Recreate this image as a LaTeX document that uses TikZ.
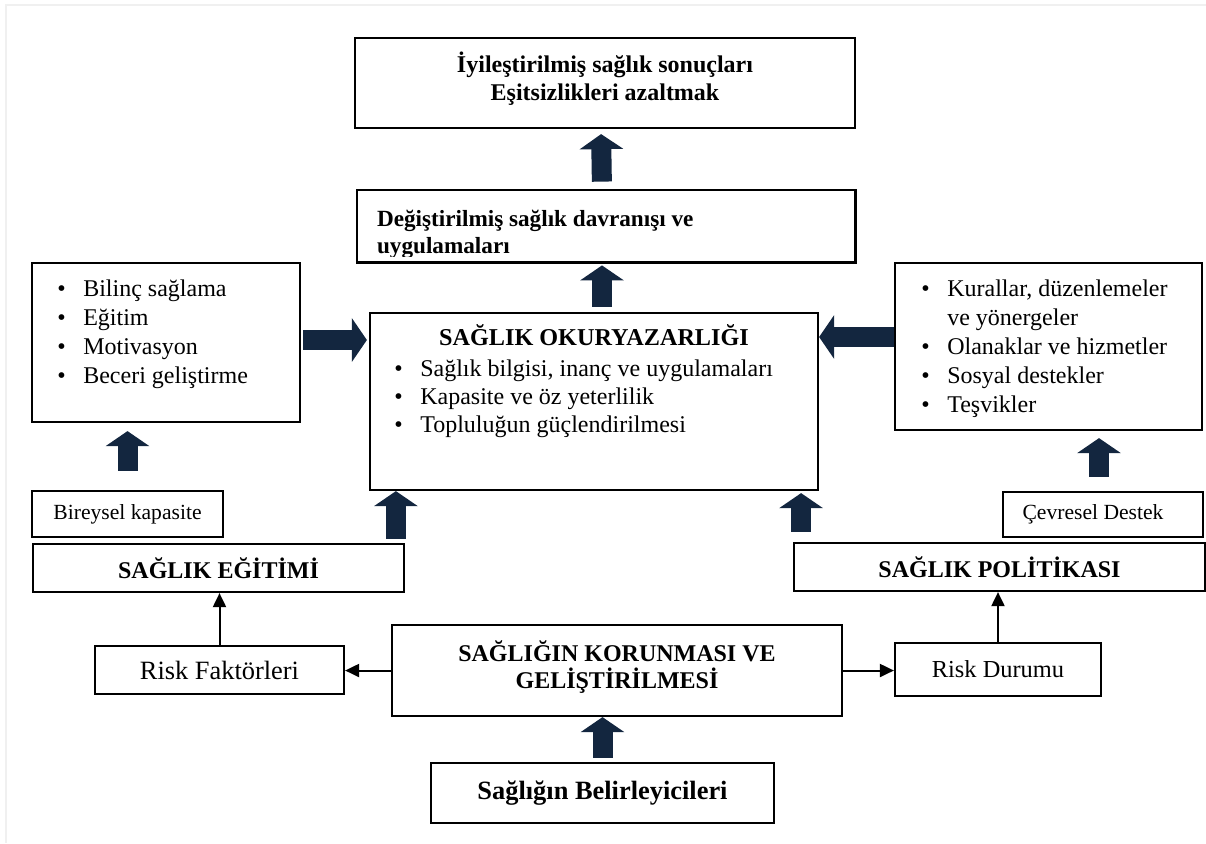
\documentclass[tikz,border=0pt]{standalone}
\usepackage{fontspec}
\setmainfont{Liberation Serif}
\usetikzlibrary{arrows.meta,positioning}
\definecolor{navyarr}{HTML}{13263F}
\newcommand{\itm}{\makebox[13pt][l]{\textbullet}}
\tikzset{
  box/.style={draw, line width=1.1pt, inner sep=0pt},
  fat/.style={navyarr, line width=10pt, -{Triangle[length=7.5pt,width=21.5pt]}},
  lnk/.style={line width=1pt, -{Triangle[length=7pt,width=6.5pt]}},
  hd/.style={font=\bfseries\fontsize{12}{13.5}\selectfont, align=center},
  lst/.style={anchor=base west, inner sep=0pt, font=\fontsize{12}{14.4}\selectfont}
}
\begin{document}
\begin{tikzpicture}[x=0.5pt,y=-0.5pt]
\useasboundingbox (0,0) rectangle (1206,843);
\draw[gray!12, line width=1pt] (6,843) -- (6,5) -- (1206,5);

% top
\node[box, minimum width=250pt, minimum height=45pt] (res) at (605,83) {};
\node[hd, font=\bfseries\fontsize{12}{14}\selectfont, inner sep=0pt] (restxt) at ([yshift=2pt]res.center) {İyileştirilmiş sağlık sonuçları\\Eşitsizlikleri azaltmak};
\node[inner sep=0pt, minimum width=249pt, minimum height=36pt] (beh) at (606,226) {};
\begin{scope}
  \clip ([yshift=3pt]beh.south west) rectangle (beh.north east);
  \node[lst, font=\bfseries\fontsize{11.6}{13.5}\selectfont] (behtxt) at ([xshift=10pt,yshift=-18.5pt]beh.north west) {\begin{tabular}[t]{@{}l@{}}Değiştirilmiş sağlık davranışı ve\\uygulamaları\end{tabular}};
\end{scope}
\draw[line width=1.1pt] (beh.south west) rectangle (beh.north east);

% middle
\node[box, minimum width=134pt, minimum height=79.5pt] (lft) at (166,342.5) {};
\node[lst] (lfttxt) at ([xshift=13pt,yshift=-17.5pt]lft.north west) {\begin{tabular}[t]{@{}l@{}}
\itm Bilinç sağlama\\ \itm Eğitim\\ \itm Motivasyon\\ \itm Beceri geliştirme\end{tabular}};

\node[box, minimum width=224pt, minimum height=88.5pt] (lit) at (594,401.5) {};
\node[anchor=base, inner sep=0pt, font=\bfseries\fontsize{12.1}{14}\selectfont] (littl) at ([yshift=-17pt]lit.north) {SAĞLIK OKURYAZARLIĞI};
\node[lst, font=\fontsize{12}{14}\selectfont] (littxt) at ([xshift=12.5pt,yshift=-32.5pt]lit.north west) {\begin{tabular}[t]{@{}l@{}}
\itm Sağlık bilgisi, inanç ve uygulamaları\\ \itm Kapasite ve öz yeterlilik\\ \itm Topluluğun güçlendirilmesi\end{tabular}};

\node[box, minimum width=153.5pt, minimum height=83.5pt] (rgt) at (1048.5,346.5) {};
\node[lst] (rgttxt) at ([xshift=13.5pt,yshift=-17.5pt]rgt.north west) {\begin{tabular}[t]{@{}l@{}}
\itm Kurallar, düzenlemeler\\ \hspace*{13pt}ve yönergeler\\ \itm Olanaklar ve hizmetler\\ \itm Sosyal destekler\\ \itm Teşvikler\end{tabular}};

% lower
\node[box, font=\fontsize{10.8}{12}\selectfont, minimum width=95.5pt, minimum height=23pt] (ind) at (127.5,514) {Bireysel kapasite};
\node[box, hd, minimum width=185.5pt, minimum height=24pt] (edu) at (218.5,568) {SAĞLIK EĞİTİMİ};
\node[box, minimum width=100pt, minimum height=22.5pt] (env) at (1103,514.5) {};
\node[inner sep=0pt, font=\fontsize{10.8}{12}\selectfont] (envtxt) at ([xshift=-5pt]env.center) {Çevresel Destek};
\node[box, hd, minimum width=205.5pt, minimum height=24pt] (pol) at (999.5,567) {SAĞLIK POLİTİKASI};

\node[box, font=\fontsize{13.2}{15}\selectfont, minimum width=124.5pt, minimum height=24pt] (rf) at (219.5,670) {Risk Faktörleri};
\node[box, minimum width=225pt, minimum height=45.5pt] (hp) at (617,670.5) {};
\node[hd, inner sep=0pt] (hptxt) at ([yshift=1.5pt]hp.center) {SAĞLIĞIN KORUNMASI VE\\GELİŞTİRİLMESİ};
\node[box, font=\fontsize{12.2}{14}\selectfont, minimum width=103pt, minimum height=26.5pt] (rd) at (998,669.5) {Risk Durumu};
\node[box, hd, font=\bfseries\fontsize{13.2}{15}\selectfont, minimum width=171.5pt, minimum height=30pt] (det) at (602.5,793) {Sağlığın Belirleyicileri};

% block arrows
\coordinate (a1) at ([yshift=1.25pt]lft.east);
\coordinate (a2) at ([yshift=4.75pt]rgt.west);
\coordinate (a3) at ([xshift=13.5pt]lit.south west);
\coordinate (a4) at ([xshift=-9pt]lit.south east);
\draw[fat, shorten <=4pt, shorten >=2.5pt] ([xshift=-2pt]beh.north) -- ([xshift=-2pt]res.south);
\draw[fat, shorten <=2.5pt, shorten >=1.5pt] ([xshift=4pt]lit.north) -- ([xshift=-2pt]beh.south);
\draw[fat, shorten <=1pt, shorten >=1pt] (a1) -- (a1 -| lit.west);
\draw[fat] (a2) -- (a2 -| lit.east);
\draw[fat, shorten <=9.5pt, shorten >=4pt] (ind.north) -- (ind.north |- lft.south);
\draw[fat, shorten <=2pt] (a3 |- edu.north) -- (a3);
\draw[fat, shorten <=5pt, shorten >=1pt] (a4 |- pol.north) -- (a4);
\draw[fat, shorten <=7pt, shorten >=3.5pt] ([xshift=-2pt]env.north) -- ([xshift=-2pt]env.north |- rgt.south);
\draw[fat, shorten <=2pt] (det.north) -- (det.north |- hp.south);

% thin arrows
\draw[lnk] (rf.north) -- (rf.north |- edu.south);
\draw[lnk] (rd.north) -- (rd.north |- pol.south);
\draw[lnk] (hp.west) -- (hp.west -| rf.east);
\draw[lnk] (hp.east) -- (hp.east -| rd.west);
\end{tikzpicture}
\end{document}
